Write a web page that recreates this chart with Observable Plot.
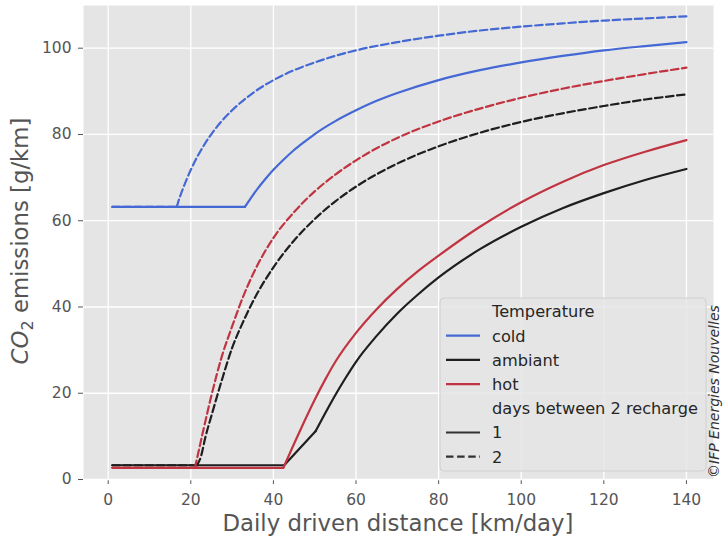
<!DOCTYPE html>
<html>
<head>
<meta charset="utf-8">
<script src="https://cdn.jsdelivr.net/npm/d3@7"></script>
<script src="https://cdn.jsdelivr.net/npm/@observablehq/plot@0.6"></script>
<style>
  html, body { margin: 0; padding: 0; background: #ffffff; overflow: hidden; }
</style>
</head>
<body>
<div id="chart"></div>
<script>
// ---- data ----
const xTicks = [0, 20, 40, 60, 80, 100, 120, 140];
const yTicks = [0, 20, 40, 60, 80, 100];

const coldDist1 = [1, 33.1, 34, 35, 36, 38, 40, 42.5, 45, 47.5, 50, 55, 60, 65, 70, 80, 90, 100, 110, 120, 130, 140];
const coldCo2_1 = [63.2, 63.2, 64.5, 65.9, 67.2, 69.6, 71.8, 74.2, 76.4, 78.3, 80.1, 83.1, 85.6, 87.8, 89.6, 92.6, 94.9, 96.7, 98.2, 99.5, 100.5, 101.4];

const coldDist2 = [1, 16.6, 17, 17.5, 18, 19, 20, 21, 22.5, 25, 27.5, 30, 35, 40, 45, 50, 60, 70, 80, 90, 100, 110, 120, 130, 140];
const coldCo2_2 = [63.2, 63.2, 64.5, 65.9, 67.2, 69.6, 71.8, 73.8, 76.4, 80.1, 83.1, 85.6, 89.6, 92.6, 94.9, 96.7, 99.5, 101.4, 102.9, 104.1, 105.0, 105.75, 106.4, 106.9, 107.4];

const ambDist1 = [1, 42.6, 50.2, 52.5, 55, 57.5, 60, 65, 70, 75, 80, 90, 100, 110, 120, 130, 140];
const ambCo2_1 = [3.3, 3.3, 11.2, 15.3, 19.6, 23.6, 27.3, 33.3, 38.5, 42.9, 46.85, 53.4, 58.6, 62.9, 66.4, 69.45, 72.0];

const ambDist2 = [1, 21.5, 22.5, 23.5, 25, 27.5, 30, 32.5, 35, 40, 45, 50, 55, 60, 70, 80, 90, 100, 110, 120, 130, 140];
const ambCo2_2 = [3.3, 3.3, 5.5, 9.7, 14.8, 23.0, 30.5, 36.2, 41.2, 49.2, 55.4, 60.4, 64.5, 67.9, 73.25, 77.25, 80.4, 82.9, 84.9, 86.6, 88.1, 89.3];

const hotDist1 = [1, 42.4, 45, 47.5, 50, 52.5, 55, 60, 65, 70, 75, 80, 90, 100, 110, 120, 130, 140];
const hotCo2_1 = [2.7, 2.7, 8.3, 13.5, 18.5, 23.1, 27.3, 34.0, 39.5, 44.2, 48.3, 51.9, 58.6, 64.3, 69.0, 72.9, 76.0, 78.7];

const hotDist2 = [1, 21, 22, 23, 24, 25, 27.5, 30, 32.5, 35, 40, 45, 50, 55, 60, 70, 80, 90, 100, 110, 120, 130, 140];
const hotCo2_2 = [2.7, 2.7, 7.0, 11.3, 15.5, 19.5, 28.5, 35.5, 42.0, 47.5, 56.0, 62.0, 66.8, 70.7, 74.0, 79.2, 83.0, 86.0, 88.5, 90.6, 92.4, 94.0, 95.5];

const temperatures = ["cold", "ambiant", "hot"];
const tempColors = ["#4468d4", "#1e1e1e", "#c03441"];
const rechargeDays = ["1", "2"];
const dashes = [null, "7.5,3.6"];

// ---- build tables ----
const zip = (xs, ys) => xs.map((x, i) => ({x, y: ys[i]}));
// smoothFrom: index of the point where the straight part ends and the smooth curve begins
const series = [
  {t: 0, d: 0, data: zip(coldDist1, coldCo2_1), smoothFrom: 1},
  {t: 0, d: 1, data: zip(coldDist2, coldCo2_2), smoothFrom: 1},
  {t: 1, d: 0, data: zip(ambDist1, ambCo2_1), smoothFrom: 2},
  {t: 1, d: 1, data: zip(ambDist2, ambCo2_2), smoothFrom: 1},
  {t: 2, d: 0, data: zip(hotDist1, hotCo2_1), smoothFrom: 1},
  {t: 2, d: 1, data: zip(hotDist2, hotCo2_2), smoothFrom: 1}
];

const W = 723, H = 537;
const mL = 83, mR = 10, mT = 5, mB = 58;
const FONT = "DejaVu Sans, sans-serif";

const lineMarks = [];
for (const s of series) {
  const opts = {
    x: "x", y: "y",
    stroke: tempColors[s.t],
    strokeWidth: 2.2,
    strokeDasharray: dashes[s.d] || undefined
  };
  const pts = s.data;
  const head = pts.slice(0, s.smoothFrom + 1);
  const tail = pts.slice(s.smoothFrom);
  lineMarks.push(Plot.line(head, {...opts, curve: "linear"}));
  lineMarks.push(Plot.line(tail, {...opts, curve: "monotone-x"}));
}

const svg = Plot.plot({
  width: W,
  height: H,
  marginLeft: mL,
  marginRight: mR,
  marginTop: mT,
  marginBottom: mB,
  style: {fontFamily: FONT, fontSize: "15.5px", color: "#555555", background: "#ffffff", overflow: "visible"},
  x: {domain: [-5.98, 146.55], ticks: xTicks, tickSize: 5, tickPadding: 9, label: null, tickFormat: d => String(d)},
  y: {domain: [0, 109.9], ticks: yTicks, tickSize: 5, tickPadding: 7, label: null, tickFormat: d => String(d)},
  marks: [
    Plot.frame({fill: "#e5e5e5", stroke: null}),
    Plot.ruleX(xTicks, {stroke: "#ffffff", strokeWidth: 1.3}),
    Plot.ruleY(yTicks, {stroke: "#ffffff", strokeWidth: 1.3}),
    ...lineMarks
  ]
});
document.getElementById("chart").appendChild(svg);

const root = d3.select(svg);

// x-axis title
root.append("text")
  .attr("x", (mL + (W - mR)) / 2)
  .attr("y", 531)
  .attr("text-anchor", "middle")
  .attr("font-family", FONT)
  .attr("font-size", 22.8)
  .attr("fill", "#555555")
  .text("Daily driven distance [km/day]");

// y-axis title
const yt = root.append("text")
  .attr("transform", `translate(27.5,${(mT + H - mB) / 2 - 1}) rotate(-90)`)
  .attr("text-anchor", "middle")
  .attr("font-family", FONT)
  .attr("font-size", 22.8)
  .attr("fill", "#555555");
yt.append("tspan").attr("font-style", "italic").text("CO");
yt.append("tspan").attr("font-size", 16).attr("dy", 5).text("2");
yt.append("tspan").attr("dy", -5).text(" emissions [g/km]");

// legend
const lg = root.append("g");
lg.append("rect")
  .attr("x", 440).attr("y", 298).attr("width", 266).attr("height", 173)
  .attr("rx", 4)
  .attr("fill", "#e5e5e5").attr("fill-opacity", 0.85)
  .attr("stroke", "#d0d0d0").attr("stroke-width", 1);
const entries = [
  {label: "Temperature"},
  ...temperatures.map((t, i) => ({label: t, color: tempColors[i], dash: null})),
  {label: "days between 2 recharge"},
  ...rechargeDays.map((d, i) => ({label: d, color: "#333333", dash: dashes[i]}))
];
entries.forEach((e, i) => {
  const cy = 311.5 + i * 24.2;
  if (e.color) {
    lg.append("line")
      .attr("x1", 446).attr("x2", 480).attr("y1", cy).attr("y2", cy)
      .attr("stroke", e.color).attr("stroke-width", 2.2)
      .attr("stroke-dasharray", e.dash || null);
  }
  lg.append("text")
    .attr("x", 492).attr("y", cy)
    .attr("dy", "0.36em")
    .attr("text-anchor", "start")
    .attr("font-family", FONT)
    .attr("font-size", 16.2)
    .attr("fill", "#262626")
    .text(e.label);
});

// copyright
root.append("text")
  .attr("transform", "translate(719,478) rotate(-90)")
  .attr("text-anchor", "start")
  .attr("font-family", FONT)
  .attr("font-style", "italic")
  .attr("font-size", 14)
  .attr("fill", "#333333")
  .text("©IFP Energies Nouvelles");
</script>
</body>
</html>
